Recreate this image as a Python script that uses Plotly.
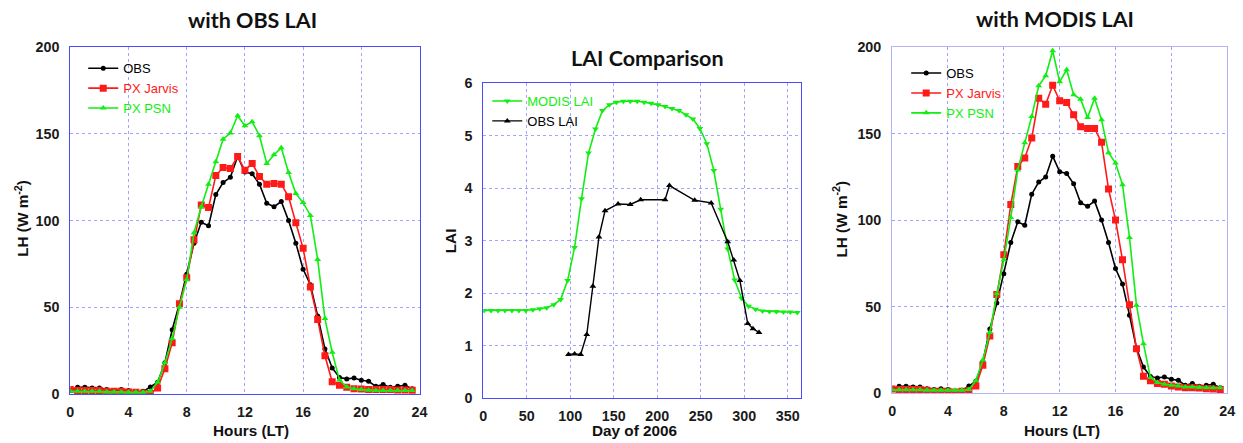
import plotly.graph_objects as go

W, H = 1243, 443

hours = [i * 0.5 for i in range(48)]

# ---- Left panel (with OBS LAI) ----
lh_obs = [2, 3.9, 3.9, 3.5, 3.5, 2.5, 2, 2.5, 2, 1, 1.5, 4,
          6.8, 18, 37, 52, 69, 87, 99, 97, 115, 122, 125, 137,
          128, 127, 121, 110, 108, 111, 100, 87, 72, 63, 45, 26,
          15, 9.5, 8.7, 9.2, 7.9, 7.3, 4.4, 5.4, 3.9, 4.4, 5, 3]
lh_jarvis_obs = [2.5, 2, 2, 2, 2, 1.5, 1.5, 1.5, 1.2, 1, 0.5, 0.3,
                 3.5, 14.5, 29.5, 52, 67, 89, 109, 107.5, 126, 130.6, 130, 137,
                 129, 133, 125.4, 121, 121.4, 121, 113.7, 98.8, 84, 61.7, 43, 22,
                 7, 5, 3.9, 3, 2.8, 2.6, 2.5, 2.5, 2.5, 2.3, 2.3, 2.2]
lh_psn_obs = [1.5, 1.5, 1.5, 1.5, 1.5, 1.2, 1.2, 1.2, 1, 1, 1, 1.5,
              6.7, 18, 32, 50, 66, 93, 108, 121, 134, 147, 150.5, 160.5,
              154.7, 157, 149, 133, 138, 142, 127.7, 115.6, 110.4, 103, 77.6, 43.5,
              24, 8, 4, 3, 2.5, 2.2, 2, 2, 2, 2, 2, 2]

# ---- Right panel (with MODIS LAI) ----
lh_jarvis_modis = [2.3, 2, 2, 2, 2, 1.5, 1, 1, 1, 0.5, 1, 1.4,
                   4, 16, 33, 57, 80, 109, 131, 136, 147.5, 170.5, 167, 178,
                   169, 168, 161, 154, 153, 153, 145, 118, 100, 77, 51, 25.6,
                   9.7, 7, 5.5, 5, 4, 3.5, 3, 3, 2.8, 2.5, 2.3, 2]
lh_psn_modis = [1.8, 1.8, 1.8, 1.8, 1.8, 1.5, 1.5, 1.5, 1.5, 1.5, 1.5, 2,
                7, 19, 35, 57.5, 77, 101.5, 129, 144.7, 160, 177.7, 183.5, 198,
                180, 187, 172.5, 170, 159.3, 170.5, 158, 139, 133, 120.5, 90, 50.8,
                28.5, 9, 6, 5, 4.5, 4, 3.5, 3.5, 3.2, 3, 3, 3]

# ---- Middle panel (LAI comparison) ----
modis_days = [1 + 8 * i for i in range(46)]
modis_lai = [1.67, 1.67, 1.67, 1.67, 1.67, 1.67, 1.67, 1.68, 1.70, 1.72,
             1.78, 1.88, 2.24, 2.87, 3.80, 4.67, 5.13, 5.48, 5.59, 5.64,
             5.66, 5.66, 5.66, 5.64, 5.62, 5.59, 5.56, 5.52, 5.48, 5.40,
             5.32, 5.14, 4.85, 4.34, 3.60, 2.84, 2.25, 1.90, 1.75, 1.69,
             1.66, 1.65, 1.65, 1.64, 1.64, 1.63]
obs_days = [98, 105, 112, 119, 126, 133, 140, 155, 169, 181, 209, 214,
            243, 262, 281, 288, 295, 304, 310, 317]
obs_lai = [0.83, 0.84, 0.83, 1.21, 2.13, 3.07, 3.57, 3.70, 3.69, 3.78, 3.78, 4.05,
           3.77, 3.72, 2.98, 2.63, 2.24, 1.42, 1.32, 1.25]

BLACK, RED, GREEN = "#000000", "#ff1a1a", "#11ee11"
FONT = "Liberation Sans, Arial, sans-serif"
TFONT = "Lato, 'Open Sans', sans-serif"

# the photographed page comes out slightly shrunk; map wanted picture pixels
# to figure pixels
SX, OX, SY, OY = 0.987, 3.9, 0.962, 7.8


def fx(p):
    return min(1.0, ((p - OX) / SX) / W)


def fy(p):
    return 1 - ((p - OY) / SY) / H


def span(txt, c):
    return f"<span style='color:{c}'>{txt}</span>"


fig = go.Figure()

for xa, ya, lg, jar, psn in [("x", "y", "legend", lh_jarvis_obs, lh_psn_obs),
                             ("x3", "y3", "legend3", lh_jarvis_modis, lh_psn_modis)]:
    fig.add_trace(go.Scatter(x=hours, y=lh_obs, xaxis=xa, yaxis=ya, legend=lg,
                             name=span("OBS", BLACK), mode="lines+markers",
                             line=dict(color=BLACK, width=1.6),
                             marker=dict(symbol="circle", size=5, color=BLACK)))
    fig.add_trace(go.Scatter(x=hours, y=jar, xaxis=xa, yaxis=ya, legend=lg,
                             name=span("PX Jarvis", RED), mode="lines+markers",
                             line=dict(color=RED, width=1.6),
                             marker=dict(symbol="square", size=7, color=RED)))
    fig.add_trace(go.Scatter(x=hours, y=psn, xaxis=xa, yaxis=ya, legend=lg,
                             name=span("PX PSN", GREEN), mode="lines+markers",
                             line=dict(color=GREEN, width=1.6),
                             marker=dict(symbol="triangle-up", size=6, color=GREEN)))

fig.add_trace(go.Scatter(x=modis_days, y=modis_lai, xaxis="x2", yaxis="y2", legend="legend2",
                         name=span("MODIS LAI", GREEN), mode="lines+markers",
                         line=dict(color=GREEN, width=1.6),
                         marker=dict(symbol="triangle-down", size=6, color=GREEN)))
fig.add_trace(go.Scatter(x=obs_days, y=obs_lai, xaxis="x2", yaxis="y2", legend="legend2",
                         name=span("OBS LAI", BLACK), mode="lines+markers",
                         line=dict(color=BLACK, width=1.4),
                         marker=dict(symbol="triangle-up", size=6, color=BLACK)))

tickfont = dict(family=FONT, size=14.3, color="#1a1a1a", weight="bold")
grid = dict(showgrid=True, gridcolor="rgba(100,100,255,0.6)", griddash="dot", gridwidth=1,
            showline=True, mirror=True, linewidth=1, zeroline=False,
            ticks="", tickfont=tickfont)

panels = {
    "": dict(xd=(70, 418), yd=(47, 393), xr=[0, 24], xdt=4, yr=[0, 200], ydt=50, lc="#4a4aff"),
    "2": dict(xd=(481.5, 798), yd=(83, 397), xr=[0, 365], xdt=50, yr=[0, 6], ydt=1, lc="#4a4aff"),
    "3": dict(xd=(889, 1223), yd=(47, 392), xr=[0, 24], xdt=4, yr=[0, 200], ydt=50, lc="#b4b4f4"),
}
layout = {}
for k, p in panels.items():
    layout["xaxis" + k] = dict(domain=[fx(p["xd"][0]), fx(p["xd"][1])], range=p["xr"],
                               dtick=p["xdt"], tick0=0, anchor="y" + k, linecolor=p["lc"],
                               ticklabelstandoff=5, **grid)
    layout["yaxis" + k] = dict(domain=[fy(p["yd"][1]), fy(p["yd"][0])], range=p["yr"],
                               dtick=p["ydt"], tick0=0, anchor="x" + k, linecolor=p["lc"],
                               ticklabelstandoff=7, **grid)

legfont = dict(family=FONT, size=13, color="#000")
# legend top-left corners, in figure pixels
for name, x0, y0 in [("legend", 80, 47), ("legend2", 488, 81), ("legend3", 911, 52)]:
    layout[name] = dict(x=x0 / W, y=1 - y0 / H, xanchor="left", yanchor="top",
                        bgcolor="rgba(0,0,0,0)", borderwidth=0, font=legfont,
                        itemwidth=30, tracegroupgap=0)

fig.update_layout(width=W, height=H, margin=dict(l=0, r=0, t=0, b=0),
                  paper_bgcolor="white", plot_bgcolor="white", showlegend=True, **layout)

anns = [
    ("<b>with OBS LAI</b>", 252, 20, 0, TFONT, 21.5),
    ("<b>LAI Comparison</b>", 645, 58, 0, TFONT, 21.5),
    ("<b>with MODIS LAI</b>", 1051, 19, 0, TFONT, 21.5),
    ("<b>LH (W m<sup>-2</sup>)</b>", 21, 218, -90, FONT, 15.3),
    ("<b>Hours (LT)</b>", 250, 429, 0, FONT, 15.3),
    ("<b>LAI</b>", 449, 240, -90, FONT, 15.3),
    ("<b>Day of 2006</b>", 632, 429, 0, FONT, 15.3),
    ("<b>LH (W m<sup>-2</sup>)</b>", 837, 218, -90, FONT, 15.3),
    ("<b>Hours (LT)</b>", 1058, 429, 0, FONT, 15.3),
]
for txt, x, y, ang, fam, sz in anns:
    fig.add_annotation(text=txt, x=fx(x), y=fy(y), xref="paper", yref="paper",
                       xanchor="center", yanchor="middle", showarrow=False, textangle=ang,
                       font=dict(family=fam, size=sz, color="#111"))

fig.write_html("out.html", config={"displayModeBar": False},
               post_script="document.body.style.margin='0px';")
